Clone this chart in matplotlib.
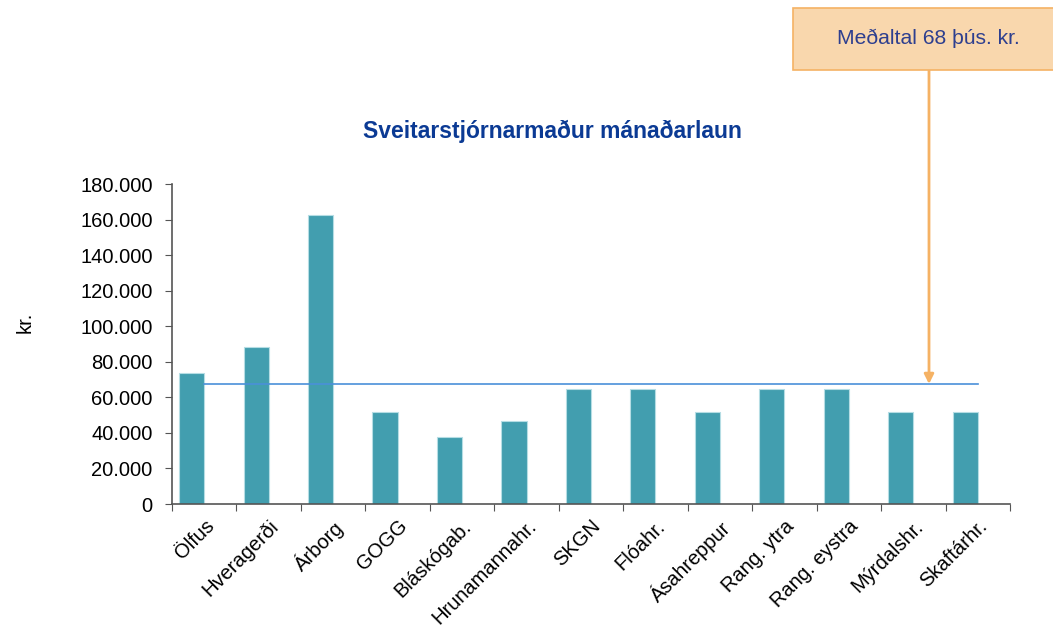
import matplotlib.pyplot as plt
from matplotlib.patches import Rectangle
from matplotlib.ticker import FuncFormatter
import numpy as np

plt.rcParams['font.family'] = ['Liberation Sans', 'DejaVu Sans']

categories = ['Ölfus', 'Hveragerði', 'Árborg', 'GOGG', 'Bláskógab.', 'Hrunamannahr.',
              'SKGN', 'Flóahr.', 'Ásahreppur', 'Rang. ytra', 'Rang. eystra',
              'Mýrdalshr.', 'Skaftárhr.']
laun = [73500, 88300, 162400, 51600, 37900, 46500,
        64700, 64700, 51600, 64700, 64700, 51600, 51600]
medaltal = 67500
y_ticks = [0, 20000, 40000, 60000, 80000, 100000, 120000, 140000, 160000, 180000]

bar_color = '#429eaf'
navy = '#0b3a94'

fig = plt.figure(figsize=(10.53, 6.31), dpi=100)
ax = fig.add_axes([172/1053, 1 - 504/631, (1010 - 172)/1053, (504 - 184)/631])

n = len(categories)
idx = np.arange(n)
ax.bar(idx + 0.11, laun, width=0.39, align='edge', color=bar_color,
       edgecolor='#b5dde4', linewidth=0.8, zorder=2)

# average line from first to last category centre
ax.plot([0.5, n - 0.5], [medaltal, medaltal], color='#4a90d9', lw=1.2, zorder=3)

ax.set_xlim(0, n)
ax.set_ylim(0, 180000)
ax.set_yticks(y_ticks)
ax.yaxis.set_major_formatter(FuncFormatter(lambda v, p: f'{int(v):,}'.replace(',', '.')))
ax.set_xticks(np.arange(n + 1))
ax.set_xticklabels([])
ax.set_xticks(idx + 0.5, minor=True)
ax.set_xticklabels(categories, minor=True, rotation=45, ha='right',
                   rotation_mode='anchor', fontsize=14.5)
ax.tick_params(axis='x', which='minor', length=0, pad=9)
ax.tick_params(axis='x', which='major', length=5, color='#555555', direction='out')
ax.tick_params(axis='y', length=5, color='#555555', labelsize=14.5, pad=9)

for s in ['top', 'right']:
    ax.spines[s].set_visible(False)
for s in ['left', 'bottom']:
    ax.spines[s].set_color('#555555')
    ax.spines[s].set_linewidth(1.2)

fig.text(25/1053, 1 - 322/631, 'kr.', rotation=90, fontsize=14.5,
         ha='center', va='center')
fig.text(552/1053, 1 - 131/631, 'Sveitarstjórnarmaður mánaðarlaun',
         fontsize=16.5, fontweight='bold', color=navy, ha='center', va='center')

# callout box
box = Rectangle((793/1053, 1 - 70/631), (1060 - 793)/1053, (70 - 8)/631,
                transform=fig.transFigure, facecolor='#f9d7ad', edgecolor='#f5b264',
                linewidth=1.2, zorder=5)
fig.patches.append(box)
fig.text(928/1053, 1 - 38/631, 'Meðaltal 68 þús. kr.', fontsize=15.2,
         color='#2e3f8f', ha='center', va='center', zorder=6)

arrow_x = (929 - 172) / ((1010 - 172) / n)
ax.annotate('', xy=(arrow_x, medaltal), xycoords='data',
            xytext=(arrow_x, 1 - 70/631), textcoords=('data', 'figure fraction'),
            arrowprops=dict(arrowstyle='-|>', color='#f5b264', lw=2,
                            mutation_scale=14, shrinkA=0, shrinkB=0),
            annotation_clip=False)

fig.savefig('out.png', dpi=100)
